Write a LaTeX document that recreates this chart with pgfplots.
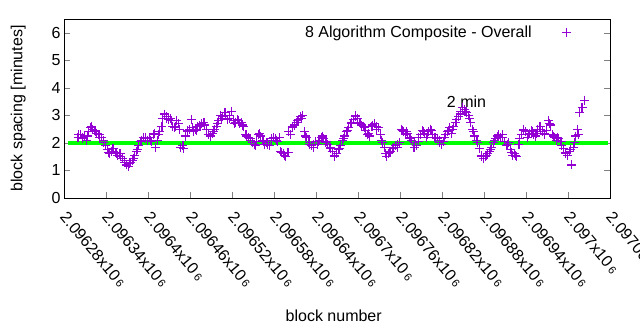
\documentclass[border=0pt]{standalone}
\usepackage{pgfplots}
\pgfplotsset{compat=1.18}
\usepackage{fontspec}
\setmainfont{Liberation Sans}
\definecolor{gpviolet}{RGB}{148,0,211}
\definecolor{gpgreen}{RGB}{0,255,0}
\begin{document}
\begin{tikzpicture}
\useasboundingbox (-64bp,-132bp) rectangle (576bp,198bp);
\begin{axis}[
  scale only axis,
  width=546bp, height=179bp,
  xmin=2096280, xmax=2097060,
  ymin=0, ymax=6.5,
  font=\fontsize{16bp}{19bp}\selectfont,
  /pgf/number format/assume math mode=true,
  ytick={0,1,2,3,4,5,6},
  xtick={2096280,2096340,2096400,2096460,2096520,2096580,2096640,2096700,2096760,2096820,2096880,2096940,2097000,2097060},
  xticklabels={2.09628x10\,{\fontsize{11bp}{11bp}\selectfont 6},2.09634x10\,{\fontsize{11bp}{11bp}\selectfont 6},2.0964x10\,{\fontsize{11bp}{11bp}\selectfont 6},2.09646x10\,{\fontsize{11bp}{11bp}\selectfont 6},2.09652x10\,{\fontsize{11bp}{11bp}\selectfont 6},2.09658x10\,{\fontsize{11bp}{11bp}\selectfont 6},2.09664x10\,{\fontsize{11bp}{11bp}\selectfont 6},2.0967x10\,{\fontsize{11bp}{11bp}\selectfont 6},2.09676x10\,{\fontsize{11bp}{11bp}\selectfont 6},2.09682x10\,{\fontsize{11bp}{11bp}\selectfont 6},2.09688x10\,{\fontsize{11bp}{11bp}\selectfont 6},2.09694x10\,{\fontsize{11bp}{11bp}\selectfont 6},2.097x10\,{\fontsize{11bp}{11bp}\selectfont 6},2.09706x10\,{\fontsize{11bp}{11bp}\selectfont 6}},
  scaled x ticks=false,
  xticklabel style={xshift=4bp, yshift=-11bp, rotate=-50, anchor=north west, inner sep=1bp},
  xtick pos=bottom,
  ytick pos=both,
  tick align=inside,
  major tick length=6bp,
  axis line style={line width=1pt},
  xlabel={block number},
  ylabel={block spacing [minutes]},
  xlabel style={at={(axis description cs:0.494,-0.659)}, anchor=center},
  ylabel style={at={(axis description cs:-0.084,0.5)}, anchor=center},
  legend style={draw=none, fill=none, at={(axis description cs:0.934,0.985)}, anchor=north east, font=\fontsize{16bp}{19bp}\selectfont},
  legend plot pos=right,
  legend cell align=right,
  violetmarks/.style={only marks, mark=+, mark size=4.5bp, color=gpviolet, mark options={gpviolet, solid, line width=1.1pt}},
]
\addplot[gpgreen, line width=3.5pt, forget plot] coordinates {(2096285,2) (2097057,2)};
\addplot[violetmarks] coordinates {
(2096300,2.2) (2096303,2.3) (2096306,2.15) (2096309,2.25) (2096312,2.1) (2096315,2.4) (2096318,2.55) (2096321,2.5)
(2096324,2.45) (2096327,2.35) (2096330,2.3) (2096333,2.2) (2096336,2.1) (2096339,1.9) (2096342,1.75) (2096345,1.6)
(2096348,1.7) (2096351,1.8) (2096354,1.65) (2096357,1.55) (2096360,1.6) (2096363,1.45) (2096366,1.35) (2096369,1.2)
(2096372,1.15) (2096375,1.3) (2096378,1.35) (2096381,1.55) (2096384,1.7) (2096387,1.9) (2096390,2.05) (2096393,2.2)
(2096396,2.15) (2096399,2.1) (2096402,2.2) (2096405,2.05) (2096408,2.3) (2096411,1.85) (2096414,2.1) (2096417,2.4)
(2096420,2.6) (2096423,3.05) (2096426,2.95) (2096429,2.85) (2096432,2.9) (2096435,2.6) (2096438,2.55) (2096441,2.8)
(2096444,2.7) (2096447,1.85) (2096450,1.9) (2096453,2.25) (2096456,2.45) (2096459,2.5) (2096462,2.85) (2096465,2.4)
(2096468,2.5) (2096471,2.6) (2096474,2.65) (2096477,2.7) (2096480,2.75) (2096483,2.5) (2096486,2.3) (2096489,2.25)
(2096492,2.35) (2096495,2.5) (2096498,2.6) (2096501,2.8) (2096504,3.0) (2096507,2.95) (2096510,3.1) (2096513,2.85)
(2096516,2.9) (2096519,3.15) (2096522,2.8) (2096525,2.75) (2096528,2.85) (2096531,2.7) (2096534,2.75) (2096537,2.6)
(2096540,2.3) (2096543,2.2) (2096546,2.15) (2096549,2.0) (2096552,1.95) (2096555,2.05) (2096558,2.3) (2096561,2.25)
(2096564,2.1) (2096567,1.95) (2096570,2.0) (2096573,1.9) (2096576,2.1) (2096579,2.2) (2096582,2.15) (2096585,2.05)
(2096588,2.2) (2096591,1.65) (2096594,1.6) (2096597,1.5) (2096600,1.65) (2096603,2.3) (2096606,2.55) (2096609,2.65)
(2096612,2.75) (2096615,2.85) (2096618,2.95) (2096621,3.0) (2096624,2.4) (2096627,2.2) (2096630,2.0) (2096633,1.9)
(2096636,1.85) (2096639,2.05) (2096642,1.95) (2096645,2.1) (2096648,2.2) (2096651,2.15) (2096654,2.0) (2096657,1.95)
(2096660,1.85) (2096663,1.7) (2096666,1.55) (2096669,1.6) (2096672,1.75) (2096675,1.9) (2096678,2.1) (2096681,2.25)
(2096684,2.4) (2096687,2.55) (2096690,2.7) (2096693,2.85) (2096696,2.95) (2096699,2.9) (2096702,2.75) (2096705,2.65)
(2096708,2.6) (2096711,2.45) (2096714,2.3) (2096717,2.25) (2096720,2.6) (2096723,2.7) (2096726,2.6) (2096729,2.55)
(2096732,2.3) (2096735,2.0) (2096738,1.85) (2096741,1.5) (2096744,1.6) (2096747,1.7) (2096750,1.8) (2096753,1.9)
(2096756,1.85) (2096759,2.0) (2096762,2.5) (2096765,2.4) (2096768,2.3) (2096771,2.35) (2096774,2.2) (2096777,2.1)
(2096780,1.85) (2096783,1.9) (2096786,2.05) (2096789,2.3) (2096792,2.45) (2096795,2.35) (2096798,2.2) (2096801,2.4)
(2096804,2.5) (2096807,2.3) (2096810,2.2) (2096813,2.15) (2096816,2.1) (2096819,1.95) (2096822,2.05) (2096825,2.3)
(2096828,2.4) (2096831,2.55) (2096834,2.35) (2096837,2.6) (2096840,2.75) (2096843,2.95) (2096846,3.05) (2096849,3.3)
(2096852,3.2) (2096855,3.1) (2096858,3.0) (2096861,2.75) (2096864,2.5) (2096867,2.25) (2096870,2.1) (2096873,1.8)
(2096876,1.55) (2096879,1.45) (2096882,1.5) (2096885,1.6) (2096888,1.7) (2096891,1.85) (2096894,2.0) (2096897,2.15)
(2096900,2.25) (2096903,2.2) (2096906,2.3) (2096909,2.05) (2096912,1.9) (2096915,2.0) (2096918,1.75) (2096921,1.55)
(2096924,1.6) (2096927,1.5) (2096930,1.95) (2096933,2.3) (2096936,2.45) (2096939,2.4) (2096942,2.2) (2096945,2.35)
(2096948,2.45) (2096951,2.3) (2096954,2.25) (2096957,2.5) (2096960,2.6) (2096963,2.4) (2096966,2.3) (2096969,2.45)
(2096972,2.8) (2096975,2.65) (2096978,2.3) (2096981,2.2) (2096984,2.1) (2096987,2.15) (2096990,2.05) (2096993,1.8)
(2096996,1.65) (2096999,1.55) (2097002,1.7) (2097005,1.2) (2097008,1.85) (2097011,2.25) (2097014,2.5) (2097017,3.1)
(2097020,3.3) (2097023,3.55)
};
\addlegendentry{8 Algorithm Composite - Overall\hspace*{28bp}}
\addplot[violetmarks, forget plot] coordinates {
(2096301,2.3) (2096307,2.2) (2096313,2.25) (2096319,2.6) (2096325,2.4) (2096331,2.2) (2096337,2.0) (2096343,1.65)
(2096349,1.8) (2096355,1.6) (2096361,1.5) (2096367,1.3) (2096373,1.25) (2096379,1.45) (2096385,1.75) (2096391,2.1)
(2096397,2.2) (2096403,2.1) (2096409,2.35) (2096415,2.3) (2096421,2.9) (2096427,2.9) (2096433,2.8) (2096439,2.6)
(2096445,2.5) (2096451,1.8) (2096457,2.4) (2096463,2.55) (2096469,2.45) (2096475,2.6) (2096481,2.65) (2096487,2.3)
(2096493,2.4) (2096499,2.7) (2096505,2.9) (2096511,3.0) (2096517,3.0) (2096523,2.7) (2096529,2.8) (2096535,2.65)
(2096541,2.25) (2096547,2.1) (2096553,1.9) (2096559,2.35) (2096565,2.05) (2096571,1.95) (2096577,2.15) (2096583,2.1)
(2096589,1.7) (2096595,1.55) (2096601,2.4) (2096607,2.6) (2096613,2.8) (2096619,2.9) (2096625,2.25) (2096631,1.95)
(2096637,1.95) (2096643,2.05) (2096649,2.25) (2096655,2.05) (2096661,1.8) (2096667,1.5) (2096673,1.8) (2096679,2.15)
(2096685,2.45) (2096691,2.75) (2096697,3.0) (2096703,2.7) (2096709,2.55) (2096715,2.35) (2096721,2.65) (2096727,2.5)
(2096733,2.1) (2096739,1.6) (2096745,1.65) (2096751,1.85) (2096757,1.95) (2096763,2.45) (2096769,2.4) (2096775,2.15)
(2096781,2.0) (2096787,2.2) (2096793,2.4) (2096799,2.3) (2096805,2.45) (2096811,2.2) (2096817,2.0) (2096823,2.2)
(2096829,2.45) (2096835,2.5) (2096841,2.85) (2096847,3.15) (2096853,3.15) (2096859,2.9) (2096865,2.4) (2096871,2.0)
(2096877,1.5) (2096883,1.55) (2096889,1.75) (2096895,2.1) (2096901,2.3) (2096907,2.2) (2096913,1.95) (2096919,1.65)
(2096925,1.55) (2096931,2.15) (2096937,2.5) (2096943,2.3) (2096949,2.4) (2096955,2.35) (2096961,2.5) (2096967,2.35)
(2096973,2.7) (2096979,2.25) (2096985,2.2) (2096991,1.9) (2096997,1.6) (2097003,1.75) (2097009,2.0) (2097015,2.3)
};
\node[font=\fontsize{16bp}{19bp}\selectfont] at (axis cs:2096855,3.5) {2 min};
\end{axis}
\end{tikzpicture}
\end{document}
